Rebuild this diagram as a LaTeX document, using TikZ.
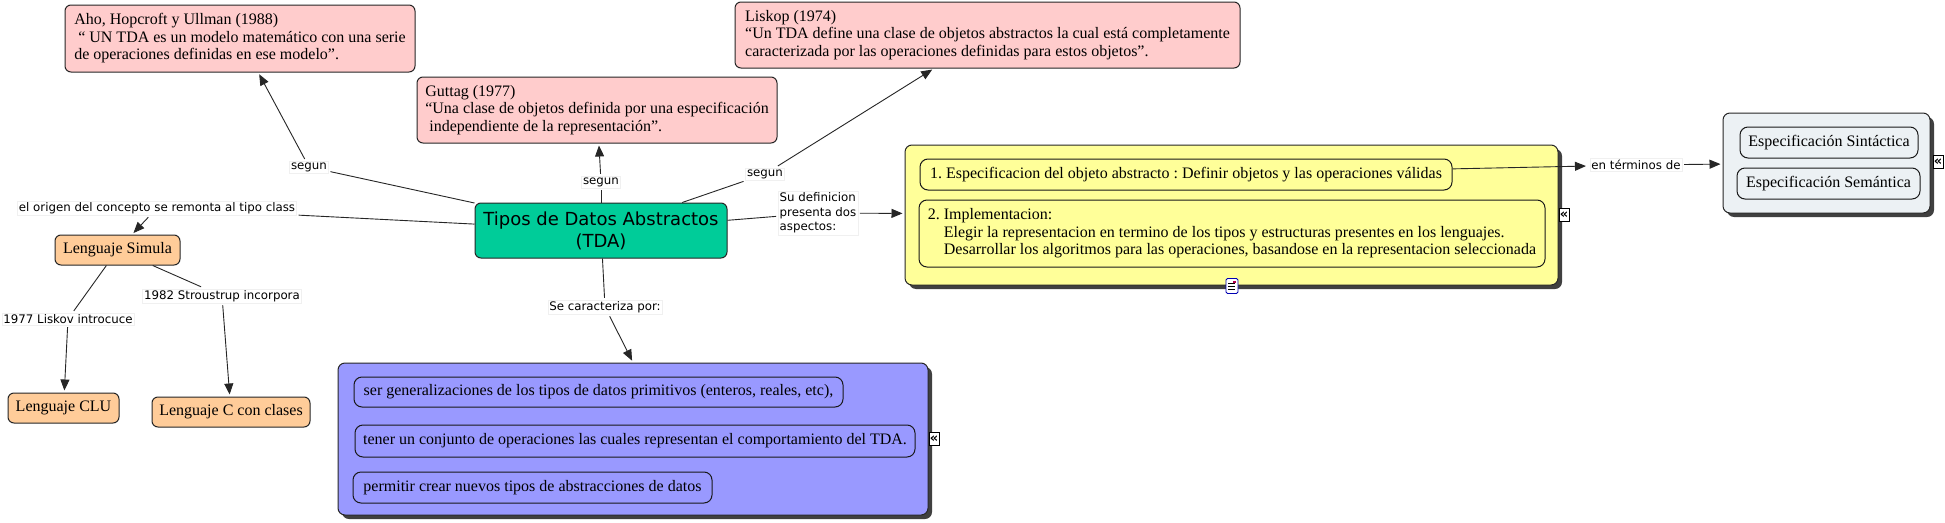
\documentclass[tikz,border=0pt]{standalone}
\usepackage{fontspec}
\setmainfont{Liberation Serif}
\newfontfamily\vfont{DejaVu Sans}
\usetikzlibrary{arrows.meta,shadows}
\definecolor{pinkbox}{RGB}{255,204,204}
\definecolor{tdagreen}{RGB}{0,204,153}
\definecolor{peach}{RGB}{255,204,153}
\definecolor{lavender}{RGB}{153,153,255}
\definecolor{paleyellow}{RGB}{255,255,153}
\definecolor{palegray}{RGB}{236,241,244}
\frenchspacing
\begin{document}
\begin{tikzpicture}[x=1pt,y=-1pt,
 cbox/.style={draw=black!85, line width=1pt, rounded corners=6pt, inner sep=0pt, align=left, font=\fontsize{16}{17.5}\selectfont},
 ibox/.style={draw=black!90, line width=1pt, rounded corners=8pt, inner sep=0pt, align=left, font=\fontsize{16}{17.5}\selectfont},
 cont/.style={draw=black!85, line width=1pt, rounded corners=7pt, inner sep=0pt, drop shadow={shadow xshift=4pt,shadow yshift=-4pt,fill=black!75,opacity=1}},
 lab/.style={fill=white, draw=black!6, inner sep=1.5pt, outer sep=2pt, align=left, font=\vfont\fontsize{11.8}{14.5}\selectfont},
 conn/.style={line width=0.9pt, draw=black!85},
 arr/.style={conn, -{Triangle[length=11pt,width=9pt]}, shorten >=2pt},
 expicon/.style={draw=black, fill=white, inner sep=0.3pt, line width=0.9pt, minimum width=10pt, minimum height=13pt, font=\vfont\bfseries\fontsize{13}{13}\selectfont}
]
\fill[white] (0,0) rectangle (1945,522);
\useasboundingbox (0,0) rectangle (1945,522);

% quotation boxes
\node[cbox, fill=pinkbox, minimum width=350pt, minimum height=67pt] (aho) at (240,38.5)
 {Aho, Hopcroft y Ullman (1988)\\\hspace*{4pt}“ UN TDA es un modelo matemático con una serie\\de operaciones definidas en ese modelo”.};
\node[cbox, fill=pinkbox, minimum width=360pt, minimum height=66pt] (guttag) at (597,110)
 {Guttag (1977)\\“Una clase de objetos definida por una especificación\\\hspace*{4pt}independiente de la representación”.};
\node[cbox, fill=pinkbox, minimum width=505pt, minimum height=66pt] (liskop) at (987.5,35)
 {Liskop (1974)\\“Un TDA define una clase de objetos abstractos la cual está completamente\\caracterizada por las operaciones definidas para estos objetos”.};

% central concept
\node[cbox, fill=tdagreen, align=center, font=\vfont\fontsize{18}{22}\selectfont, minimum width=252pt, minimum height=55pt] (tda) at (601,230.5)
 {Tipos de Datos Abstractos\\(TDA)};

% languages
\node[cbox, fill=peach, minimum width=125pt, minimum height=30pt] (simula) at (117.5,250) {Lenguaje Simula};
\node[cbox, fill=peach, minimum width=111pt, minimum height=30pt] (clu) at (63.5,408) {Lenguaje CLU};
\node[cbox, fill=peach, minimum width=158pt, minimum height=30pt] (cclases) at (231,412) {Lenguaje C con clases};

% purple container
\node[cont, fill=lavender, minimum width=590pt, minimum height=152pt] (purple) at (633,439) {};
\node[ibox, minimum width=489pt, minimum height=30pt] (p1) at (598.5,392) {ser generalizaciones de los tipos de datos primitivos (enteros, reales, etc),};
\node[ibox, minimum width=560pt, minimum height=32pt] (p2) at (635,441) {tener un conjunto de operaciones las cuales representan el comportamiento del TDA.};
\node[ibox, minimum width=359pt, minimum height=31pt] (p3) at (532.5,487.5) {permitir crear nuevos tipos de abstracciones de datos};

% yellow container
\node[cont, fill=paleyellow, minimum width=653pt, minimum height=140pt] (yellow) at (1231.5,215) {};
\node[ibox, minimum width=532pt, minimum height=31pt] (y1) at (1186,174.5) {1. Especificacion del objeto abstracto : Definir objetos y las operaciones válidas};
\node[ibox, minimum width=626pt, minimum height=67pt] (y2) at (1232,233.5)
 {2. Implementacion:\\\hspace*{16pt}Elegir la representacion en termino de los tipos y estructuras presentes en los lenguajes.\\\hspace*{16pt}Desarrollar los algoritmos para las operaciones, basandose en la representacion seleccionada};

% gray container
\node[cont, fill=palegray, minimum width=207pt, minimum height=100pt] (gray) at (1826.5,163) {};
\node[ibox, minimum width=178pt, minimum height=31pt] (g1) at (1829,142.5) {Especificación Sintáctica};
\node[ibox, minimum width=183pt, minimum height=31pt] (g2) at (1828.5,183.5) {Especificación Semántica};

% icons
\node[expicon] (ey) at (1564,215) {«};
\node[expicon] (ep) at (934,439) {«};
\node[expicon] (eg) at (1938,162) {«};
\node[draw=blue!70!black, fill=white, rounded corners=1.5pt, line width=0.9pt, minimum width=12pt, minimum height=15pt, inner sep=0pt] (note) at (1232,286) {};
\foreach \k in {5,8,11} \draw[line width=0.7pt] ([shift={(2.5,\k)}]note.north west) -- ++(7,0);
\fill[red!70!blue] ([shift={(7,2.5)}]note.north west) rectangle ++(3,2);

% linking phrases
\node[lab] (lsegA) at (309,167) {segun};
\node[lab] (lsegG) at (601,182) {segun};
\node[lab] (lsegL) at (765,174) {segun};
\node[lab] (lorigen) at (157,208) {el origen del concepto se remonta al tipo class};
\node[lab] (lsudef) at (818,213) {Su definicion\\presenta dos\\aspectos:};
\node[lab] (lsecar) at (605,307) {Se caracteriza por:};
\node[lab] (lenterm) at (1636,165) {en términos de};
\node[lab] (l1977) at (68,319) {1977 Liskov introcuce};
\node[lab] (l1982) at (222,296) {1982 Stroustrup incorpora};

% connectors
\draw[conn] (tda) -- (lsegA);   \draw[arr] (lsegA) -- (aho);
\draw[conn] (tda) -- (lsegG);   \draw[arr] (lsegG) -- (guttag);
\draw[conn] (tda) -- (lsegL);   \draw[arr] (lsegL) -- (liskop);
\draw[conn] (tda) -- (lorigen); \draw[arr] (lorigen) -- (simula);
\draw[conn] (tda) -- (lsudef);  \draw[arr] (lsudef) -- (yellow);
\draw[conn] (tda) -- (lsecar);  \draw[arr] (lsecar) -- (purple.north);
\draw[arr] (y1) -- (lenterm);   \draw[arr] (lenterm) -- (gray);
\draw[conn] (simula) -- (l1977);  \draw[arr] (l1977) -- (clu);
\draw[conn] (simula) -- (l1982);  \draw[arr] (l1982) -- (cclases);
\end{tikzpicture}
\end{document}
